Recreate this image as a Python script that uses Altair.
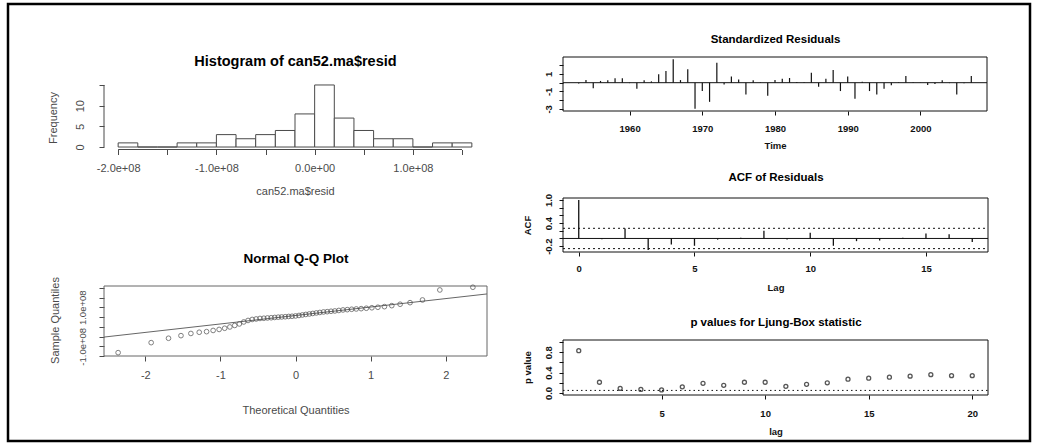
import altair as alt
import numpy as np
import pandas as pd

# ---------------- data ----------------
hist_bin_start = [-2.0, -1.8, -1.6, -1.4, -1.2, -1.0, -0.8, -0.6, -0.4, -0.2, 0.0, 0.2, 0.4, 0.6, 0.8, 1.0, 1.2, 1.4]
hist_bin_end = [-1.8, -1.6, -1.4, -1.2, -1.0, -0.8, -0.6, -0.4, -0.2, 0.0, 0.2, 0.4, 0.6, 0.8, 1.0, 1.2, 1.4, 1.6]
hist_counts = [1, 0, 0, 1, 1, 3, 2, 3, 4, 8, 15, 7, 4, 2, 2, 0, 1, 1]

qq_theoretical = [-2.362, -1.922, -1.691, -1.525, -1.393, -1.282, -1.184, -1.097, -1.017, -0.943,
                  -0.874, -0.809, -0.748, -0.689, -0.632, -0.577, -0.524, -0.473, -0.422, -0.373,
                  -0.324, -0.277, -0.230, -0.184, -0.137, -0.091, -0.046, 0.0,
                  0.046, 0.091, 0.137, 0.184, 0.230, 0.277, 0.324, 0.373, 0.422, 0.473,
                  0.524, 0.577, 0.632, 0.689, 0.748, 0.809, 0.874, 0.943, 1.017, 1.097,
                  1.184, 1.282, 1.393, 1.525, 1.691, 1.922, 2.362]
qq_sample = [-1.328, -0.815, -0.590, -0.456, -0.344, -0.282, -0.251, -0.190, -0.138, -0.077,
             -0.010, 0.067, 0.144, 0.246, 0.323, 0.374, 0.400, 0.426, 0.436, 0.451,
             0.462, 0.477, 0.492, 0.503, 0.513, 0.528, 0.538, 0.554, 0.579, 0.605,
             0.631, 0.656, 0.682, 0.708, 0.733, 0.759, 0.774, 0.795, 0.810, 0.836,
             0.862, 0.877, 0.897, 0.913, 0.928, 0.949, 0.974, 1.000, 1.031, 1.082,
             1.154, 1.236, 1.374, 1.887, 2.026]

std_years = list(range(1953, 2008))
std_resid = [-0.10, 0.30, -0.65, 0.20, 0.27, 0.50, 0.50, -0.05, -0.70, 0.27,
             0.15, 0.96, 1.35, 2.70, 0.30, 1.54, -3.00, -0.96, -2.20, 2.30,
             -0.20, 0.70, 0.38, -1.35, 0.27, 0.05, -1.50, 0.30, 0.46, 0.54,
             0.08, 0.05, 1.15, -0.46, 0.46, 1.46, -0.96, 0.70, -1.85, 0.10,
             -0.96, -1.35, -0.70, -0.30, 0.05, 0.77, 0.05, 0.02, -0.27, -0.15,
             0.27, -0.05, -1.35, -0.05, 0.77]

acf_lags = list(range(0, 18))
acf_values = [1.0, -0.02, 0.26, -0.30, -0.16, -0.19, -0.03, 0.02, 0.20, -0.03,
              0.15, -0.19, -0.07, -0.05, 0.02, 0.13, 0.11, -0.09]
acf_ci = 0.264

lb_lags = list(range(1, 21))
lb_pvalues = [0.83, 0.21, 0.09, 0.07, 0.06, 0.12, 0.19, 0.15, 0.21, 0.21,
              0.13, 0.17, 0.20, 0.27, 0.29, 0.31, 0.33, 0.36, 0.34, 0.34]
lb_level = 0.05

# ---------------- layout ----------------
FONT = "Liberation Sans"
PAD = {"left": 8, "top": 4, "right": 7, "bottom": 7}
W = 1037 - PAD["left"] - PAD["right"]
H = 448 - PAD["top"] - PAD["bottom"]
LC = "#4a4a4a"
RC = "#111111"


def vx(px):
    return px - PAD["left"]


def vy(py):
    return py - PAD["top"]


def xscale(dom, px):
    return alt.Scale(domain=dom, range=[vx(px[0]), vx(px[1])], nice=False, zero=False)


def yscale(dom, py):
    return alt.Scale(domain=dom, range=[vy(py[1]), vy(py[0])], nice=False, zero=False)


def lbl_expr(pairs):
    parts = [f"abs(datum.value - ({v})) < 1e-6 ? '{s}'" for v, s in pairs]
    return " : ".join(parts) + " : ''"


def bottom_axis(py_axis, values, labels, title, title_py, label_py, size, color, weight, tick=5):
    return alt.Axis(orient="bottom", offset=vy(py_axis) - H, values=values, labelExpr=lbl_expr(labels),
                    domain=False, grid=False, ticks=True, tickSize=tick, tickColor=color, tickWidth=1,
                    labelFont=FONT, labelFontSize=size, labelColor=color, labelFontWeight=weight,
                    labelAngle=0, labelAlign="center", labelBaseline="middle",
                    labelPadding=(label_py - py_axis) - tick, labelFlush=False, labelOverlap=False,
                    title=title, titleFont=FONT, titleFontSize=size, titleFontWeight=weight,
                    titleColor=color, titleY=title_py - py_axis, titleBaseline="middle")


def left_axis(px_axis, values, labels, title, title_px, title_py, label_px, size, color, weight, tick=5,
              label_size=None):
    return alt.Axis(orient="left", offset=-vx(px_axis), values=values, labelExpr=lbl_expr(labels),
                    domain=False, grid=False, ticks=True, tickSize=tick, tickColor=color, tickWidth=1,
                    labelFont=FONT, labelFontSize=label_size or size, labelColor=color, labelFontWeight=weight,
                    labelAngle=270, labelAlign="center", labelBaseline="middle",
                    labelPadding=(px_axis - label_px) - tick, labelFlush=False, labelOverlap=False,
                    title=title, titleFont=FONT, titleFontSize=size, titleFontWeight=weight,
                    titleColor=color, titleX=title_px - px_axis, titleY=vy(title_py),
                    titleAngle=270, titleAlign="center", titleBaseline="middle")


def top_axis(py_top, title, title_py, size):
    return alt.Axis(orient="top", offset=-vy(py_top), labels=False, ticks=False, domain=False, grid=False,
                    title=title, titleFont=FONT, titleFontSize=size, titleFontWeight="bold",
                    titleColor="black", titleY=title_py - py_top, titleBaseline="middle")


def box_layer(xs, ys, xdom, ydom, title_axis, y_axis, color):
    df = pd.DataFrame({"x0": [xdom[0]], "x1": [xdom[1]], "y0": [ydom[0]], "y1": [ydom[1]]})
    return alt.Chart(df).mark_rect(fillOpacity=0, stroke=color, strokeWidth=1).encode(
        x=alt.X("x0:Q", scale=xs, axis=title_axis), x2="x1:Q",
        y=alt.Y("y0:Q", scale=ys, axis=y_axis), y2="y1:Q")


# ---------------- histogram ----------------
H_PX, H_PY = (104, 486), (82.5, 149.5)
hx_dom, hy_dom = [-2.144, 1.744], [-0.6, 15.6]
hxs, hys = xscale(hx_dom, H_PX), yscale(hy_dom, H_PY)
hist_xticks = [-2.0, -1.5, -1.0, -0.5, 0.0, 0.5, 1.0, 1.5]
hist_xlabels = [(-2.0, "-2.0e+08"), (-1.0, "-1.0e+08"), (0.0, "0.0e+00"), (1.0, "1.0e+08")]
hist_yticks = [0, 5, 10, 15]
hist_ylabels = [(0, "0"), (5, "5"), (10, "10")]
h_yaxis = left_axis(H_PX[0], hist_yticks, hist_ylabels, "Frequency", 53, 117.5, 80, 11, LC, "normal")

hist_df = pd.DataFrame({"start": hist_bin_start, "end": hist_bin_end, "count": hist_counts})
hist_bars = alt.Chart(hist_df).mark_rect(fill="white", stroke=LC, strokeWidth=1).encode(
    x=alt.X("start:Q", scale=hxs,
            axis=bottom_axis(H_PY[1], hist_xticks, hist_xlabels, "can52.ma$resid", 191, 168, 11, LC, "normal")),
    x2="end:Q",
    y=alt.Y("count:Q", scale=hys, axis=h_yaxis),
    y2=alt.datum(0))
hx_line = alt.Chart(pd.DataFrame({"x0": [hist_xticks[0]], "x1": [hist_xticks[-1]], "y": [hy_dom[0]]})).mark_rule(
    color=LC, strokeWidth=1).encode(
    x=alt.X("x0:Q", scale=hxs, axis=top_axis(H_PY[0], "Histogram of can52.ma$resid", 61, 14.5)),
    x2="x1:Q", y=alt.Y("y:Q", scale=hys, axis=h_yaxis))
hy_line = alt.Chart(pd.DataFrame({"x": [hx_dom[0]], "y0": [hist_yticks[0]], "y1": [hist_yticks[-1]]})).mark_rule(
    color=LC, strokeWidth=1).encode(
    x=alt.X("x:Q", scale=hxs, axis=None), y=alt.Y("y0:Q", scale=hys, axis=h_yaxis), y2="y1:Q")
hist_panel = alt.layer(hist_bars, hx_line, hy_line)

# ---------------- Q-Q plot ----------------
Q_PX, Q_PY = (104, 487), (286, 356)
qx_dom, qy_dom = [-2.55, 2.55], [-1.50, 2.09]
qxs, qys = xscale(qx_dom, Q_PX), yscale(qy_dom, Q_PY)
qq_xticks = [-2, -1, 0, 1, 2]
qq_xlabels = [(-2, "-2"), (-1, "-1"), (0, "0"), (1, "1"), (2, "2")]
qq_yticks = [-1.5, -1.0, -0.5, 0.0, 0.5, 1.0, 1.5, 2.0]
qq_ylabels = [(-1.0, "-1.0e+08"), (1.0, "1.0e+08")]
q_yaxis = left_axis(Q_PX[0], qq_yticks, qq_ylabels, "Sample Quantiles", 55, 320, 82, 11, LC, "normal",
                    label_size=9.5)

qq_df = pd.DataFrame({"theo": qq_theoretical, "sample": qq_sample})
q1, q3 = np.quantile(qq_sample, [0.25, 0.75])
z1, z3 = -0.6745, 0.6745
slope = (q3 - q1) / (z3 - z1)
intercept = q1 - slope * z1
qqline_df = pd.DataFrame({"x": qx_dom, "y": [intercept + slope * v for v in qx_dom]})

qq_box = box_layer(qxs, qys, qx_dom, qy_dom, top_axis(Q_PY[0], "Normal Q-Q Plot", 258, 13.5), q_yaxis, "#666666")
qq_points = alt.Chart(qq_df).mark_point(shape="circle", filled=False, size=22, strokeWidth=1, color=LC).encode(
    x=alt.X("theo:Q", scale=qxs,
            axis=bottom_axis(Q_PY[1], qq_xticks, qq_xlabels, "Theoretical Quantities", 410, 375, 11, LC, "normal")),
    y=alt.Y("sample:Q", scale=qys, axis=q_yaxis))
qq_line = alt.Chart(qqline_df).mark_line(color="#666666", strokeWidth=1).encode(
    x=alt.X("x:Q", scale=qxs, axis=None), y=alt.Y("y:Q", scale=qys, axis=q_yaxis))
qq_panel = alt.layer(qq_box, qq_line, qq_points)

# ---------------- standardized residuals ----------------
S_PX, S_PY = (563, 987), (57, 111)
sx_dom, sy_dom = [1950.84, 2009.16], [-3.25, 2.95]
sxs, sys_ = xscale(sx_dom, S_PX), yscale(sy_dom, S_PY)
std_xticks = [1960, 1970, 1980, 1990, 2000]
std_xlabels = [(v, str(v)) for v in std_xticks]
std_yticks = [-3, -2, -1, 0, 1, 2]
std_ylabels = [(1, "1"), (-1, "-1"), (-3, "-3")]
s_yaxis = left_axis(S_PX[0], std_yticks, std_ylabels, "", 530, 84, 548, 9.5, RC, "bold", tick=4)

std_df = pd.DataFrame({"year": std_years, "resid": std_resid})
std_box = box_layer(sxs, sys_, sx_dom, sy_dom, top_axis(S_PY[0], "Standardized Residuals", 39, 11.5), s_yaxis, RC)
std_zero = alt.Chart(pd.DataFrame({"x0": [sx_dom[0]], "x1": [sx_dom[1]], "y": [0]})).mark_rule(
    color=RC, strokeWidth=1).encode(
    x=alt.X("x0:Q", scale=sxs, axis=None), x2="x1:Q", y=alt.Y("y:Q", scale=sys_, axis=s_yaxis))
std_spikes = alt.Chart(std_df).mark_rule(color=RC, strokeWidth=1.2).encode(
    x=alt.X("year:Q", scale=sxs,
            axis=bottom_axis(S_PY[1], std_xticks, std_xlabels, "Time", 145, 128, 9.5, RC, "bold", tick=4)),
    y=alt.Y("resid:Q", scale=sys_, axis=s_yaxis),
    y2=alt.datum(0))
std_panel = alt.layer(std_box, std_zero, std_spikes)

# ---------------- ACF ----------------
A_PX, A_PY = (563, 988), (198, 252)
ax_dom, ay_dom = [-0.68, 17.68], [-0.352, 1.052]
axs, ays = xscale(ax_dom, A_PX), yscale(ay_dom, A_PY)
acf_xticks = [0, 5, 10, 15]
acf_xlabels = [(v, str(v)) for v in acf_xticks]
acf_yticks = [-0.2, 0.0, 0.2, 0.4, 0.6, 0.8, 1.0]
acf_ylabels = [(1.0, "1.0"), (0.4, "0.4"), (-0.2, "-0.2")]
a_yaxis = left_axis(A_PX[0], acf_yticks, acf_ylabels, "ACF", 527, 225, 548, 9.5, RC, "bold", tick=4)

acf_df = pd.DataFrame({"lag": acf_lags, "acf": acf_values})
acf_box = box_layer(axs, ays, ax_dom, ay_dom, top_axis(A_PY[0], "ACF of Residuals", 177, 11.5), a_yaxis, RC)
acf_h = alt.Chart(pd.DataFrame({"x0": [ax_dom[0]], "x1": [ax_dom[1]], "y": [0.0]})).mark_rule(
    color=RC, strokeWidth=1).encode(
    x=alt.X("x0:Q", scale=axs, axis=None), x2="x1:Q", y=alt.Y("y:Q", scale=ays, axis=a_yaxis))
acf_ci_rule = alt.Chart(pd.DataFrame({"x0": [ax_dom[0]] * 2, "x1": [ax_dom[1]] * 2, "y": [acf_ci, -acf_ci]})).mark_rule(
    color=RC, strokeWidth=1, strokeDash=[2, 3]).encode(
    x=alt.X("x0:Q", scale=axs, axis=None), x2="x1:Q", y=alt.Y("y:Q", scale=ays, axis=a_yaxis))
acf_spikes = alt.Chart(acf_df).mark_rule(color=RC, strokeWidth=1.3).encode(
    x=alt.X("lag:Q", scale=axs,
            axis=bottom_axis(A_PY[1], acf_xticks, acf_xlabels, "Lag", 287, 268, 9.5, RC, "bold", tick=4)),
    y=alt.Y("acf:Q", scale=ays, axis=a_yaxis),
    y2=alt.datum(0))
acf_panel = alt.layer(acf_box, acf_h, acf_ci_rule, acf_spikes)

# ---------------- Ljung-Box ----------------
L_PX, L_PY = (563, 988), (340, 395)
lx_dom, ly_dom = [0.24, 20.76], [-0.04, 1.04]
lxs, lys = xscale(lx_dom, L_PX), yscale(ly_dom, L_PY)
lb_xticks = [5, 10, 15, 20]
lb_xlabels = [(v, str(v)) for v in lb_xticks]
lb_yticks = [0.0, 0.2, 0.4, 0.6, 0.8, 1.0]
lb_ylabels = [(0.0, "0.0"), (0.4, "0.4"), (0.8, "0.8")]
l_yaxis = left_axis(L_PX[0], lb_yticks, lb_ylabels, "p value", 527, 367, 548, 9.5, RC, "bold", tick=4)

lb_df = pd.DataFrame({"lag": lb_lags, "p": lb_pvalues})
lb_box = box_layer(lxs, lys, lx_dom, ly_dom, top_axis(L_PY[0], "p values for Ljung-Box statistic", 322, 11.5),
                   l_yaxis, RC)
lb_rule = alt.Chart(pd.DataFrame({"x0": [lx_dom[0]], "x1": [lx_dom[1]], "y": [lb_level]})).mark_rule(
    color=RC, strokeWidth=1, strokeDash=[1.5, 3]).encode(
    x=alt.X("x0:Q", scale=lxs, axis=None), x2="x1:Q", y=alt.Y("y:Q", scale=lys, axis=l_yaxis))
lb_points = alt.Chart(lb_df).mark_point(shape="circle", filled=False, size=16, strokeWidth=1.3, color=RC).encode(
    x=alt.X("lag:Q", scale=lxs,
            axis=bottom_axis(L_PY[1], lb_xticks, lb_xlabels, "lag", 431, 413, 9.5, RC, "bold", tick=4)),
    y=alt.Y("p:Q", scale=lys, axis=l_yaxis))
lb_panel = alt.layer(lb_box, lb_rule, lb_points)

# ---------------- assemble ----------------
chart = alt.layer(hist_panel, qq_panel, std_panel, acf_panel, lb_panel).resolve_scale(
    x="independent", y="independent"
).properties(
    width=W, height=H, padding=PAD, autosize=alt.AutoSizeParams(type="none"), background="white"
).configure(font=FONT).configure_view(stroke="black", strokeWidth=2.5)

chart.save("out.html", embed_options={"renderer": "svg", "actions": False})
